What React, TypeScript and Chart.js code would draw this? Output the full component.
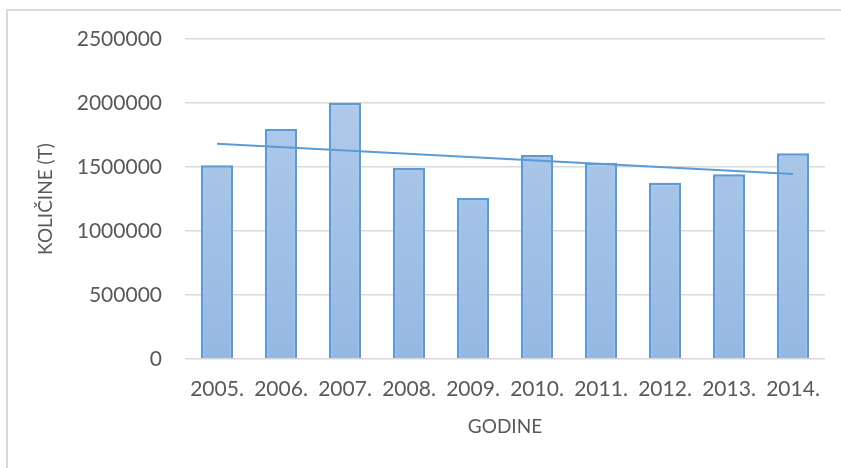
import React, { useEffect, useRef } from "react";
import { Chart, registerables } from "chart.js";

Chart.register(...registerables);

const categories = ["2005.", "2006.", "2007.", "2008.", "2009.", "2010.", "2011.", "2012.", "2013.", "2014."];
const quantities = [1513000, 1797000, 2002000, 1492000, 1258000, 1594000, 1534000, 1377000, 1443000, 1607000];
// linear trendline: value at first and last category
const trendStart = 1682000;
const trendEnd = 1445000;
const yTickMax = 2500000;
const yTickStep = 500000;

const FONT = "Lato, 'Open Sans', sans-serif";
const TEXT = "#595959";
const GRID = "#d9d9d9";
const BLUE = "#5b9bd5";

export default function App() {
  const ref = useRef<HTMLCanvasElement | null>(null);

  useEffect(() => {
    const canvas = ref.current;
    if (!canvas) return;
    const trend = categories.map((_, i) =>
      i === 0 ? trendStart : i === categories.length - 1 ? trendEnd : null
    );
    const chart = new Chart(canvas, {
      type: "bar",
      data: {
        labels: categories,
        datasets: [
          {
            type: "line",
            data: trend as any,
            borderColor: BLUE,
            borderWidth: 2,
            pointRadius: 0,
            spanGaps: true,
            fill: false,
            order: 0,
          } as any,
          {
            type: "bar",
            data: quantities,
            backgroundColor: (ctx: any) => {
              const area = ctx.chart.chartArea;
              if (!area) return "#a9c4e8";
              const g = ctx.chart.ctx.createLinearGradient(0, area.top, 0, area.bottom);
              g.addColorStop(0, "#b5cdeb");
              g.addColorStop(1, "#95b8e3");
              return g;
            },
            borderColor: BLUE,
            borderWidth: 2.5,
            barPercentage: 0.5,
            categoryPercentage: 1,
            order: 1,
          },
        ],
      },
      options: {
        responsive: false,
        animation: false,
        layout: { padding: { top: 39, right: 16, bottom: 0, left: 0 } },
        plugins: { legend: { display: false }, tooltip: { enabled: false } },
        scales: {
          x: {
            grid: { display: false, drawTicks: false },
            border: { display: false },
            ticks: { color: TEXT, font: { family: FONT, size: 21 }, padding: 18, maxRotation: 0 },
            title: {
              display: true,
              text: "GODINE",
              color: TEXT,
              font: { family: FONT, size: 19 },
              padding: { top: 0, bottom: 30 },
            },
            afterFit: (s: any) => {
              s.height = 109;
            },
          },
          y: {
            min: 0,
            max: yTickMax,
            ticks: {
              stepSize: yTickStep,
              color: TEXT,
              font: { family: FONT, size: 21 },
              padding: 23,
              callback: (v: any) => String(v),
            },
            grid: { color: GRID, lineWidth: 1.5, drawTicks: false },
            border: { display: false },
            title: {
              display: true,
              text: "KOLIČINE (T)",
              color: TEXT,
              font: { family: FONT, size: 19 },
              padding: { top: 34, bottom: 0 },
            },
            afterFit: (s: any) => {
              s.width = 185;
            },
          },
        },
      },
    });
    return () => chart.destroy();
  }, []);

  return (
    <div
      style={{
        position: "absolute",
        left: 0,
        top: 0,
        width: 841,
        height: 468,
        overflow: "hidden",
        background: "#ffffff",
      }}
    >
      <div
        style={{
          position: "absolute",
          left: 6,
          top: 9,
          width: 900,
          height: 600,
          border: `2px solid ${GRID}`,
          boxSizing: "border-box",
        }}
      />
      <canvas ref={ref} width={841} height={468} style={{ position: "absolute", left: 0, top: 0 }} />
    </div>
  );
}
